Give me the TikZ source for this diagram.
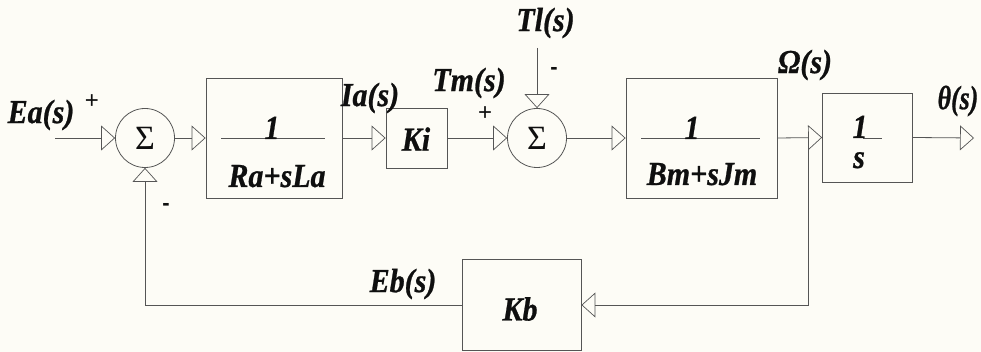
\documentclass[tikz,border=0pt]{standalone}
\usepackage{fontspec}
\setmainfont{Liberation Serif}
\newfontfamily\heavyfont[BoldItalicFeatures={FakeBold=0.8}]{Liberation Serif}
\newfontfamily\sgnfont{Liberation Sans}
\usetikzlibrary{arrows.meta}
\definecolor{bg}{RGB}{253,252,246}
\definecolor{ln}{RGB}{85,85,85}
\definecolor{tx}{RGB}{15,15,15}
\newcommand\stretchtxt[1]{\scalebox{1}[1.12]{#1}}
\begin{document}
\begin{tikzpicture}[x=1pt,y=-1pt,
  wire/.style={draw=ln, line width=0.8pt},
  arr/.style={wire, -{Triangle[open, length=14pt, width=25pt, line width=0.7pt]}},
  blk/.style={draw=ln, line width=0.8pt, rectangle, inner sep=0pt},
  sumnode/.style={draw=ln, line width=0.8pt, circle, minimum size=59pt, inner sep=0pt, text=tx, font=\fontsize{34}{34}\selectfont},
  lbl/.style={font=\fontsize{30}{30}\selectfont\heavyfont\bfseries\itshape, text=tx, inner sep=0pt},
  sgn/.style={font=\fontsize{24}{24}\selectfont\sgnfont, text=tx, inner sep=0pt},
  dsh/.style={font=\fontsize{22}{22}\selectfont\sgnfont\bfseries, text=tx, inner sep=0pt}
]
\fill[bg] (0,0) rectangle (981,352);
\useasboundingbox (0,0) rectangle (981,352);

% blocks
\node[sumnode] (s1) at (145,138) {Σ};
\node[blk, minimum width=136pt, minimum height=120pt] (b1) at (274,138) {};
\node[blk, minimum width=61pt, minimum height=60pt] (ki) at (416.5,138) {};
\node[lbl] (kit) at (416,139) {\stretchtxt{Ki}};
\node[sumnode] (s2) at (537,138) {Σ};
\node[blk, minimum width=151pt, minimum height=120pt] (b2) at (701.5,138) {};
\node[blk, minimum width=90pt, minimum height=89pt] (b3) at (867.5,137.5) {};
\node[blk, minimum width=119pt, minimum height=91pt] (kb) at (521.5,305) {};
\node[lbl] (kbt) at (520,309) {\stretchtxt{Kb}};

% fractions
\coordinate (f1a) at (221,138); \coordinate (f1b) at (325,138);
\draw[wire] (f1a) -- (f1b);
\node[lbl, anchor=base] (n1) at (272,139) {\stretchtxt{1}};
\node[lbl, anchor=base] (d1) at (277,187) {\stretchtxt{Ra+sLa}};
\coordinate (f2a) at (641,138); \coordinate (f2b) at (760,138);
\draw[wire] (f2a) -- (f2b);
\node[lbl, anchor=base] (n2) at (692,139) {\stretchtxt{1}};
\node[lbl, anchor=base] (d2) at (702,185) {\stretchtxt{Bm+sJm}};
\coordinate (f3a) at (863,138); \coordinate (f3b) at (882,138);
\draw[wire] (f3a) -- (f3b);
\node[lbl, anchor=base] (n3) at (860,138) {\stretchtxt{1}};
\node[lbl, anchor=base] (d3) at (859,168) {\stretchtxt{s}};

% labels
\node[lbl] (ea) at (41,115) {\stretchtxt{Ea(s)}};
\node[sgn] (p1) at (92,102) {+};
\node[lbl] (ia) at (370,98) {\stretchtxt{Ia(s)}};
\node[lbl] (tm) at (469,83) {\stretchtxt{Tm(s)}};
\node[sgn] (p2) at (485,114) {+};
\node[lbl] (tl) at (545.5,23) {\stretchtxt{Tl(s)}};
\node[dsh] (m2) at (554,71) {-};
\node[lbl] (om) at (805,65) {\stretchtxt{Ω(s)}};
\node[lbl] (th) at (958,101) {\scalebox{0.86}[1.12]{θ(s)}};
\node[lbl] (eb) at (403,284) {\stretchtxt{Eb(s)}};
\node[dsh] (m1) at (166,207) {-};

% connectors
\coordinate (in) at (55,138);
\coordinate (tltop) at (537,48);
\coordinate (br) at (808,138);
\coordinate (brd) at (808,305);
\coordinate (fbl) at (145,305);
\coordinate (out) at (974,138);

\draw[arr] (in) -- (s1.west);
\draw[arr] (s1.east) -- (b1.west);
\draw[arr] (b1.east) -- (ki.west);
\draw[arr] (ki.east) -- (s2.west);
\draw[arr] (tltop) -- (s2.north);
\draw[arr] (s2.east) -- (b2.west);
\draw[arr] (b2.east) -- (b3.west);
\draw[arr] (b3.east) -- (out);
\draw[arr] (br) -- (brd) -- (kb.east);
\draw[arr] (kb.west) -- (fbl) -- (s1.south);
\end{tikzpicture}
\end{document}
